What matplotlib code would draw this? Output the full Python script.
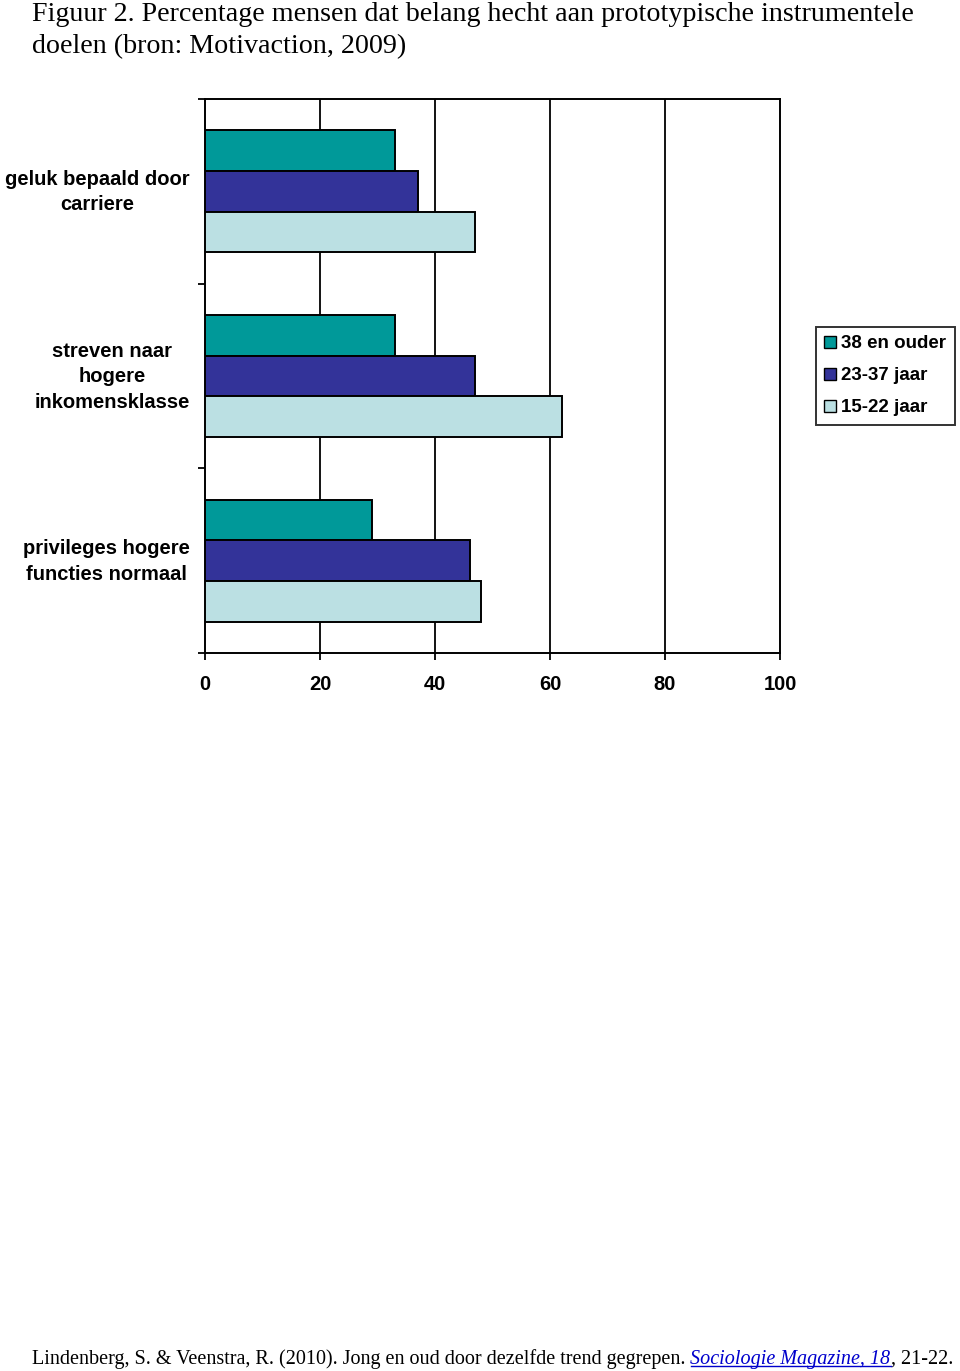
import numpy as np
import matplotlib
matplotlib.use('Agg')
import matplotlib.pyplot as plt
from matplotlib.lines import Line2D

# data
categories = ['geluk bepaald door\ncarriere',
              'streven naar\nhogere\ninkomensklasse',
              'privileges hogere\nfuncties normaal']
groups = ['38 en ouder', '23-37 jaar', '15-22 jaar']
oud = [33, 33, 29]
midden = [37, 47, 46]
jong = [47, 62, 48]
colors = ['#009999', '#333399', '#BBE0E3']
xticks = [0, 20, 40, 60, 80, 100]

sans = ['Liberation Sans', 'DejaVu Sans']
serif = ['Liberation Serif', 'DejaVu Serif']

fig = plt.figure(figsize=(9.6, 13.71), dpi=100)
ax = fig.add_axes([205 / 960, 1 - 653 / 1371, 575 / 960, 554 / 1371])

h = 0.22
centers = np.arange(len(categories)) + 0.5
for i, (vals, c, lab) in enumerate(zip([oud, midden, jong], colors, groups)):
    ax.barh(centers + (i - 1) * h, vals, height=h, color=c, edgecolor='black',
            linewidth=1.4, label=lab, zorder=3)

ax.set_xlim(0, 100)
ax.set_ylim(3, 0)
ax.set_xticks(xticks)
ax.set_xticklabels([str(t) for t in xticks], fontsize=14.5, fontweight='bold', family=sans)
ax.tick_params(axis='x', direction='out', length=5, width=1.3, pad=11)

ax.set_yticks([0, 1, 2, 3])
ax.set_yticklabels([])
ax.tick_params(axis='y', which='major', direction='out', length=5, width=1.3)
# labels sit a touch above the group centre, as in the original
ax.set_yticks(centers - 0.025, minor=True)
ax.set_yticklabels(categories, minor=True, fontsize=14.5, fontweight='bold', family=sans)
ax.tick_params(axis='y', which='minor', length=0, pad=11)
for t in ax.get_yticklabels(minor=True):
    t.set_multialignment('center')
    t.set_linespacing(1.45)

for x in xticks[1:-1]:
    ax.axvline(x, color='black', linewidth=1.3, zorder=1)
for s in ax.spines.values():
    s.set_linewidth(1.4)
    s.set_color('black')

leg = fig.legend(loc='upper left', bbox_to_anchor=(816 / 960, 1 - 327 / 1371),
                 borderaxespad=0, fancybox=False, edgecolor='black',
                 prop={'family': sans, 'weight': 'bold', 'size': 13.5},
                 handlelength=0.6, handleheight=0.6, handletextpad=0.3,
                 labelspacing=0.8, borderpad=0.45)
leg.get_frame().set_linewidth(1.4)
for p in leg.get_patches():
    p.set_linewidth(1.0)

# title lines
fig.text(32 / 960, 1 - 21 / 1371,
         'Figuur 2. Percentage mensen dat belang hecht aan prototypische instrumentele',
         family=serif, fontsize=20.2, va='baseline')
fig.text(32 / 960, 1 - 53 / 1371, 'doelen (bron: Motivaction, 2009)',
         family=serif, fontsize=20.2, va='baseline')

# footer reference
part1 = fig.text(32 / 960, 1 - 1364 / 1371,
                 'Lindenberg, S. & Veenstra, R. (2010). Jong en oud door dezelfde trend gegrepen. ',
                 family=serif, fontsize=14.5, va='baseline')
link = ax.annotate('Sociologie Magazine, 18', xy=(1, 0), xycoords=part1,
                   va='bottom', ha='left', family=serif, fontsize=14.5,
                   style='italic', color='#0000CC', annotation_clip=False)
part3 = ax.annotate(', 21-22.', xy=(1, 0), xycoords=link,
                    va='bottom', ha='left', family=serif, fontsize=14.5,
                    annotation_clip=False)

fig.canvas.draw()
bb = link.get_window_extent().transformed(fig.transFigure.inverted())
uy = bb.y0 + 3 / 1371
fig.add_artist(Line2D([bb.x0, bb.x1], [uy, uy], color='#0000CC', linewidth=1.0,
                      transform=fig.transFigure))

fig.savefig('out.png', dpi=100)
